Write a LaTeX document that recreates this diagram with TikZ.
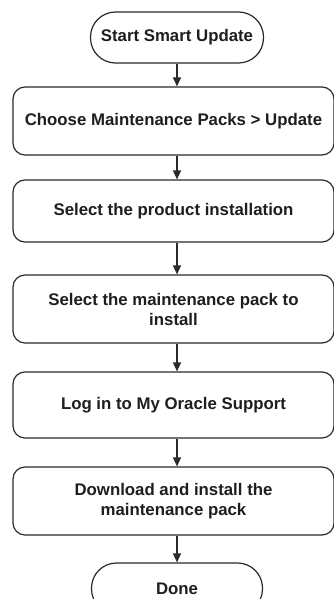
\documentclass[tikz,border=0pt]{standalone}
\usepackage{fontspec}
\setmainfont{Liberation Sans}
\usetikzlibrary{arrows.meta}
\definecolor{linec}{HTML}{2A2A2A}
\definecolor{textc}{HTML}{1E1E1E}
\begin{document}
\begin{tikzpicture}[x=1pt,y=-1pt,
  boxstyle/.style={draw=linec, line width=1.2pt, rounded corners=12pt, fill=white,
    minimum width=321pt, inner sep=0pt, align=center, text=textc,
    font=\fontsize{16.8}{20}\selectfont\bfseries},
  pillstyle/.style={draw=linec, line width=1.2pt, rounded corners=25pt, fill=white,
    minimum width=173pt, minimum height=51pt, inner sep=0pt, align=center, text=textc,
    font=\fontsize{16.8}{20}\selectfont\bfseries},
  arr/.style={draw=linec, line width=1.2pt, -{Triangle[length=9pt,width=8pt]}}]
\useasboundingbox (0,0) rectangle (334,599);
\clip (0,0) rectangle (334,599);
\fill[white] (0,0) rectangle (334,599);
\node[pillstyle] (start) at (177,37.5) {Start Smart Update};
\node[boxstyle, minimum height=68pt] (b2) at (173.5,121) {Choose Maintenance Packs > Update};
\node[boxstyle, minimum height=62pt] (b3) at (173.5,211) {Select the product installation};
\node[boxstyle, minimum height=68pt] (b4) at (173.5,309) {Select the maintenance pack to\\install};
\node[boxstyle, minimum height=66pt] (b5) at (173.5,405) {Log in to My Oracle Support};
\node[boxstyle, minimum height=68pt] (b6) at (173.5,501) {Download and install the\\maintenance pack};
\node[pillstyle, minimum width=171pt] (done) at (177,588.5) {Done};
\draw[arr] (start.south) -- (start.south |- b2.north);
\draw[arr] ([xshift=3.5pt]b2.south) -- ([xshift=3.5pt]b3.north);
\draw[arr] ([xshift=3.5pt]b3.south) -- ([xshift=3.5pt]b4.north);
\draw[arr] ([xshift=3.5pt]b4.south) -- ([xshift=3.5pt]b5.north);
\draw[arr] ([xshift=3.5pt]b5.south) -- ([xshift=3.5pt]b6.north);
\draw[arr] ([xshift=3.5pt]b6.south) -- (done.north);
\end{tikzpicture}
\end{document}
